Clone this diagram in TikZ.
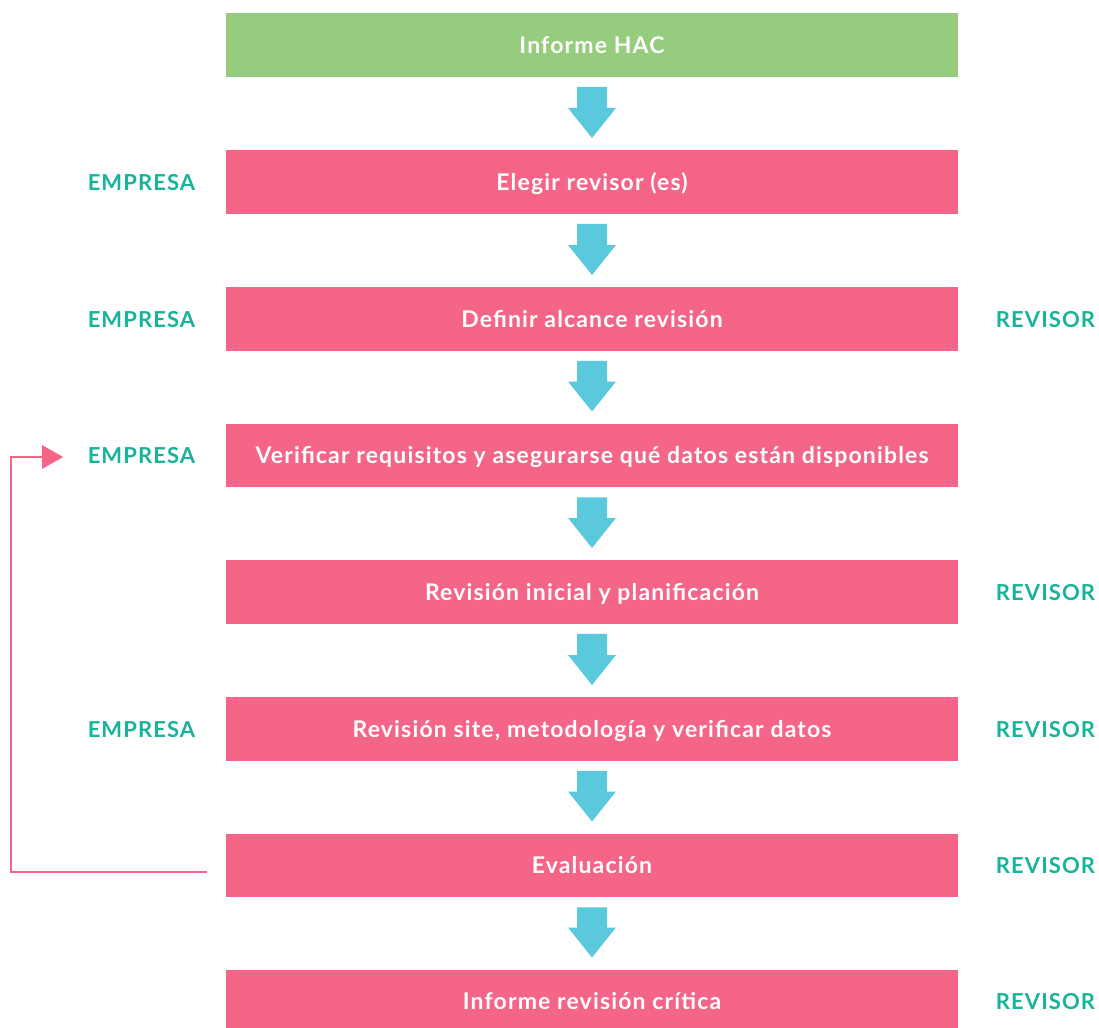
\documentclass[tikz,border=0pt]{standalone}
\usepackage{fontspec}
\setmainfont{Lato}[LetterSpace=5]
\definecolor{stepgreen}{HTML}{96CC7D}
\definecolor{steppink}{HTML}{F56587}
\definecolor{flowcyan}{HTML}{5BC9DD}
\definecolor{roleteal}{HTML}{17B39A}
\tikzset{
  stepbox/.style={fill=steppink, minimum width=732pt, minimum height=63.5pt,
    inner sep=0pt, text height=17pt, text depth=0pt, text=white,
    font=\bfseries\fontsize{23}{26}\selectfont, anchor=north},
  role/.style={text=roleteal, text height=16.5pt, text depth=0pt,
    font=\bfseries\fontsize{22}{26}\selectfont, inner sep=0pt},
  downarrow/.style={fill=flowcyan, draw=none},
  loopline/.style={draw=steppink, line width=2pt},
}
\begin{document}
\begin{tikzpicture}[x=1pt,y=-1pt]
\useasboundingbox (0,0) rectangle (1099,1027);
% process steps
\node[stepbox, fill=stepgreen] (s0) at (592,13) {Informe HAC};
\node[stepbox] (s1) at (592,150) {Elegir revisor (es)};
\node[stepbox] (s2) at (592,287) {Definir alcance revisión};
\node[stepbox] (s3) at (592,423.5) {Verificar requisitos y asegurarse qué datos están disponibles};
\node[stepbox] (s4) at (592,560) {Revisión inicial y planificación};
\node[stepbox] (s5) at (592,697) {Revisión site, metodología y verificar datos};
\node[stepbox] (s6) at (592,833.5) {Evaluación};
\node[stepbox] (s7) at (592,969.5) {Informe revisión crítica};
% block arrows between steps
\foreach \a/\b in {s0/s1,s1/s2,s2/s3,s3/s4,s4/s5,s5/s6,s6/s7}{
  \path ([yshift=-10pt]\a.south) coordinate (t) ([yshift=12pt]\b.north) coordinate (h);
  \fill[downarrow] ([xshift=-15pt]t) -- ([xshift=15pt]t) -- ([xshift=15pt,yshift=30pt]h)
    -- ([xshift=24pt,yshift=30pt]h) -- (h) -- ([xshift=-24pt,yshift=30pt]h)
    -- ([xshift=-15pt,yshift=30pt]h) -- cycle;
}
% role columns
\coordinate (lc) at (141.5,0);
\coordinate (rc) at (1045.5,0);
% roles
\node[role] (e1) at (lc |- s1) {EMPRESA};
\node[role] (e2) at (lc |- s2) {EMPRESA};
\node[role] (e3) at (lc |- s3) {EMPRESA};
\node[role] (e5) at (lc |- s5) {EMPRESA};
\node[role] (r2) at (rc |- s2) {REVISOR};
\node[role] (r4) at (rc |- s4) {REVISOR};
\node[role] (r5) at (rc |- s5) {REVISOR};
\node[role] (r6) at (rc |- s6) {REVISOR};
\node[role] (r7) at (rc |- s7) {REVISOR};
% feedback loop
\coordinate (lb) at (207,872);
\coordinate (la) at (42,457);
\draw[loopline] (lb) -- (11,872) -- (11,457) -- (la);
\fill[steppink] ([yshift=-12pt]la) -- ([xshift=21pt]la) -- ([yshift=12pt]la) -- cycle;
\end{tikzpicture}
\end{document}
